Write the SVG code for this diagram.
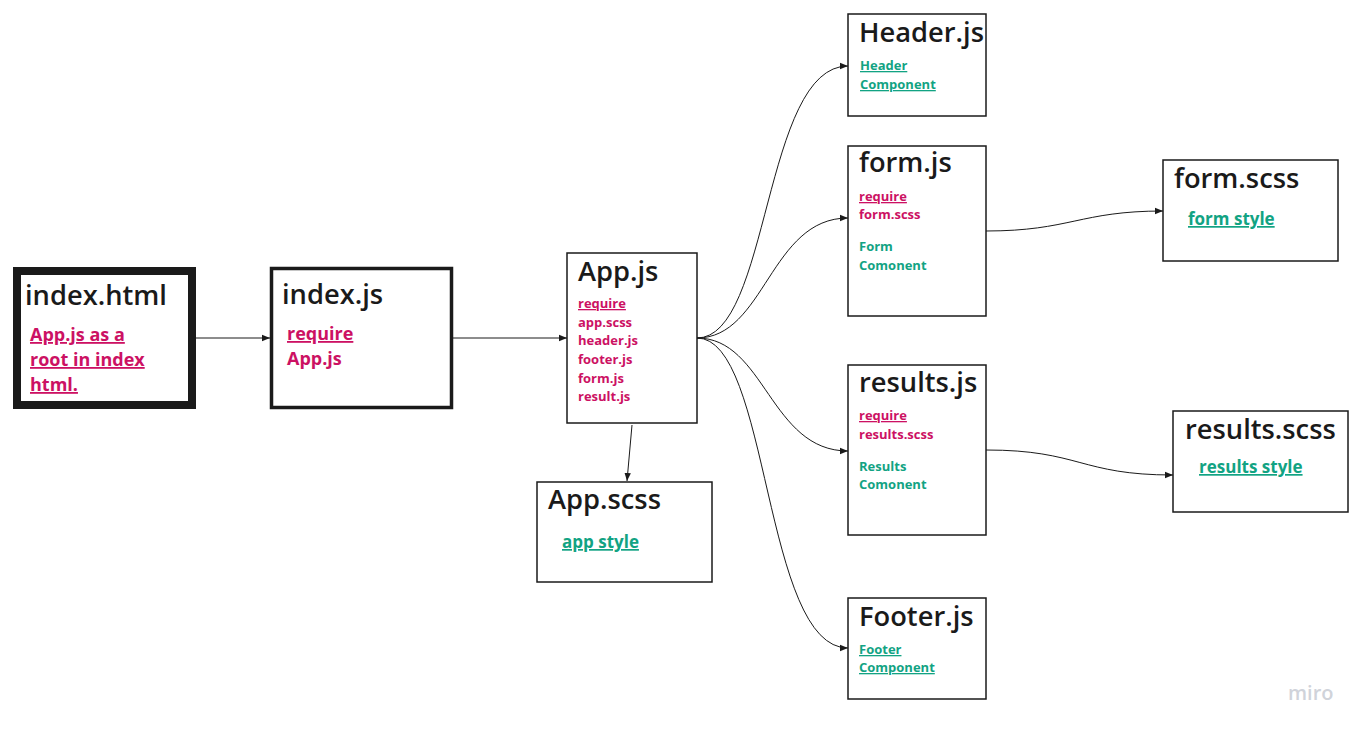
<svg xmlns="http://www.w3.org/2000/svg" width="1364" height="732" viewBox="0 0 1364 732">
<defs>
<marker id="arr" viewBox="0 0 10 10" refX="10" refY="5" markerWidth="8" markerHeight="8" markerUnits="userSpaceOnUse" orient="auto">
<path d="M0,1 L10,5 L0,9 z" fill="#1a1a1a"/>
</marker>
<style>
.box{fill:#fff;stroke:#1a1a1a;stroke-width:1.5}
.t{font-family:"Open Sans","Liberation Sans",sans-serif;font-weight:600;fill:#1a1a1a;font-size:27.3px}
.b{font-family:"Open Sans","Liberation Sans",sans-serif;font-weight:700}
.p{fill:#cc1163}
.g{fill:#12a383}
.u{text-decoration:underline}
.c{fill:none;stroke:#1a1a1a;stroke-width:1;marker-end:url(#arr)}
</style>
</defs>
<rect width="1364" height="732" fill="#fff"/>
<g id="connectors">
<path class="c" d="M196,338 L270,338"/>
<path class="c" d="M453,338 L567,338"/>
<path class="c" d="M632,425 L627,481"/>
<path class="c" d="M697,338 C770,338 763,66 848,66"/>
<path class="c" d="M697,338 C765,338 770,218 848,218"/>
<path class="c" d="M697,338 C765,338 770,451 848,451"/>
<path class="c" d="M697,338 C770,338 763,648 848,648"/>
<path class="c" d="M986,231 C1070,231 1080,211 1163,211"/>
<path class="c" d="M986,450 C1080,450 1080,475 1173,475"/>
</g>
<g id="index-html">
<rect x="17" y="271" width="175" height="134" fill="#fff" stroke="#1a1a1a" stroke-width="8"/>
<text class="t" x="25" y="305">index.html</text>
<text class="b p u" x="30" y="341" font-size="18">App.js as a </text>
<text class="b p u" x="30" y="366" font-size="18">root in index </text>
<text class="b p u" x="30" y="391" font-size="18">html.</text>
</g>
<g id="index-js">
<rect x="271.5" y="268.5" width="180" height="139" fill="#fff" stroke="#1a1a1a" stroke-width="3.5"/>
<text class="t" x="282" y="304">index.js</text>
<text class="b p u" x="287" y="340" font-size="18">require</text>
<text class="b p" x="287" y="365" font-size="18">App.js</text>
</g>
<g id="app-js">
<rect class="box" x="567" y="253" width="130" height="170"/>
<text class="t" x="578" y="281">App.js</text>
<text class="b p u" x="578" y="308" font-size="13">require</text>
<text class="b p" x="578" y="327" font-size="13">app.scss</text>
<text class="b p" x="578" y="345" font-size="13">header.js</text>
<text class="b p" x="578" y="364" font-size="13">footer.js</text>
<text class="b p" x="578" y="383" font-size="13">form.js</text>
<text class="b p" x="578" y="401" font-size="13">result.js</text>
</g>
<g id="app-scss">
<rect class="box" x="537" y="482" width="175" height="100"/>
<text class="t" x="548" y="509">App.scss</text>
<text class="b g u" x="562" y="548" font-size="17">app style</text>
</g>
<g id="header-js">
<rect class="box" x="848" y="14" width="138" height="102"/>
<text class="t" x="859" y="42">Header.js</text>
<text class="b g u" x="860" y="70" font-size="13">Header </text>
<text class="b g u" x="860" y="89" font-size="13">Component</text>
</g>
<g id="form-js">
<rect class="box" x="848" y="146" width="138" height="170"/>
<text class="t" x="859" y="172">form.js</text>
<text class="b p u" x="859" y="201" font-size="13">require</text>
<text class="b p" x="859" y="219" font-size="13">form.scss</text>
<text class="b g" x="859" y="251" font-size="13">Form</text>
<text class="b g" x="859" y="270" font-size="13">Comonent</text>
</g>
<g id="results-js">
<rect class="box" x="848" y="365" width="138" height="170"/>
<text class="t" x="859" y="392">results.js</text>
<text class="b p u" x="859" y="420" font-size="13">require</text>
<text class="b p" x="859" y="439" font-size="13">results.scss</text>
<text class="b g" x="859" y="471" font-size="13">Results</text>
<text class="b g" x="859" y="489" font-size="13">Comonent</text>
</g>
<g id="footer-js">
<rect class="box" x="848" y="598" width="138" height="101"/>
<text class="t" x="859" y="626">Footer.js</text>
<text class="b g u" x="859" y="654" font-size="13">Footer </text>
<text class="b g u" x="859" y="672" font-size="13">Component</text>
</g>
<g id="form-scss">
<rect class="box" x="1163" y="160" width="175" height="101"/>
<text class="t" x="1174" y="188">form.scss</text>
<text class="b g u" x="1188" y="225" font-size="17">form style</text>
</g>
<g id="results-scss">
<rect class="box" x="1173" y="411" width="175" height="101"/>
<text class="t" x="1185" y="439">results.scss</text>
<text class="b g u" x="1199" y="473" font-size="17">results style</text>
</g>
<text x="1288" y="700" font-family="'Open Sans','Liberation Sans',sans-serif" font-weight="600" font-size="20" fill="#d0d3da">miro</text>
</svg>
